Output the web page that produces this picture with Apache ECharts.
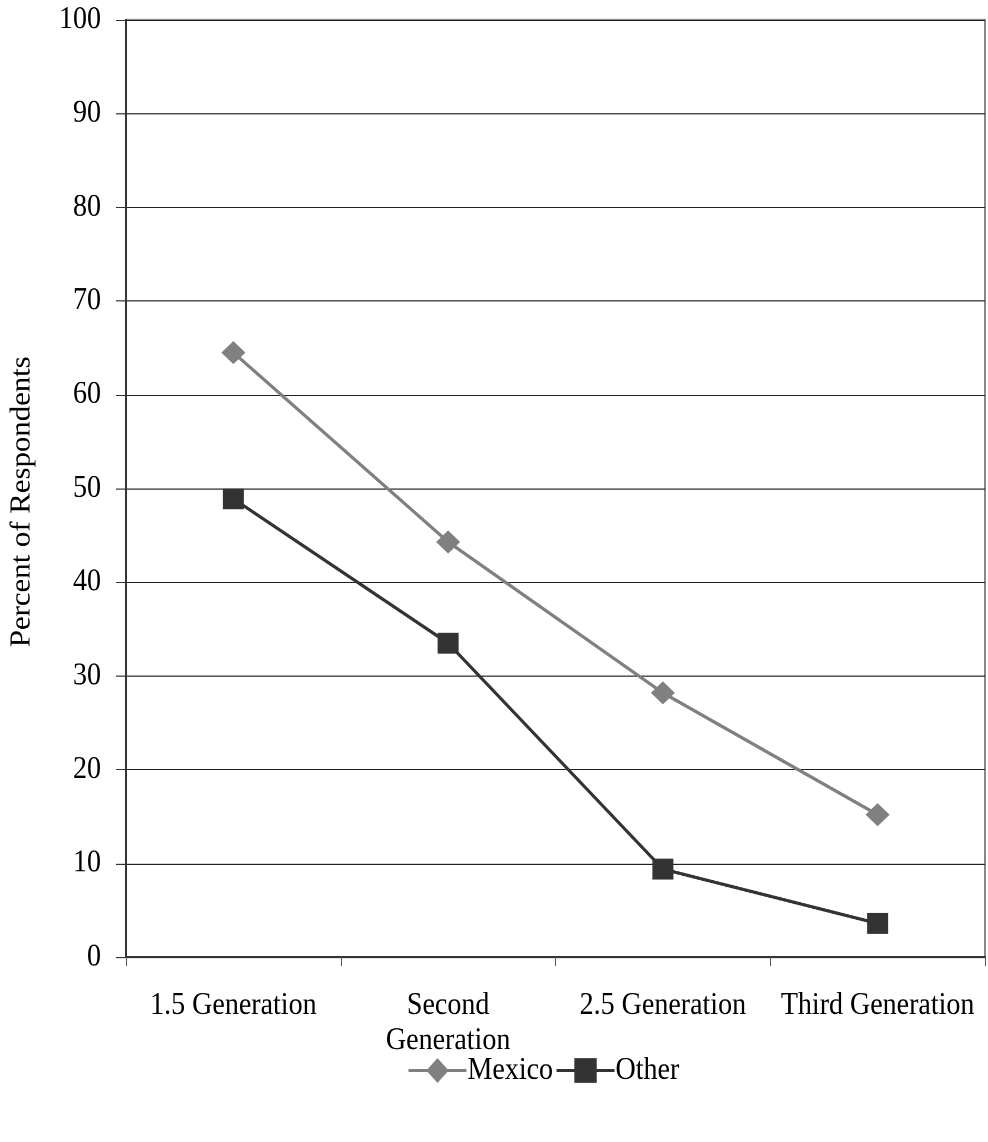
<!DOCTYPE html>
<html>
<head>
<meta charset="utf-8">
<script src="https://cdn.jsdelivr.net/npm/echarts@6/dist/echarts.min.js"></script>
<style>
  html, body { margin: 0; padding: 0; background: #fff; width: 988px; height: 1142px; overflow: hidden; }
  #page { position: relative; width: 988px; height: 1142px; overflow: hidden; }
  /* chart is laid out slightly shorter and stretched vertically to fill the page */
  #chart { position: absolute; left: 0; top: 0; width: 988px; height: 1038px; transform: scaleY(1.1002); transform-origin: 0 0; }
</style>
</head>
<body>
<div id="page"><div id="chart"></div></div>
<script>
// Generations of respondents along the x axis
const categories = ['1.5 Generation', 'Second\nGeneration', '2.5 Generation', 'Third Generation'];
// Percent of respondents per origin group
const mexicoValues = [64.5, 44.3, 28.2, 15.2];
const otherValues = [48.9, 33.5, 9.4, 3.6];
const yTicks = { min: 0, max: 100, interval: 10 };

const FONT = '"Liberation Serif", "Times New Roman", serif';
const FS = 28;
const MEXICO_COLOR = '#808080';
const OTHER_COLOR = '#333333';
const chart = echarts.init(document.getElementById('chart'), null, { renderer: 'canvas', devicePixelRatio: 2 });

chart.setOption({
  backgroundColor: '#ffffff',
  animation: false,
  textStyle: { fontFamily: FONT, color: '#000' },
  grid: { left: 124, right: 3, top: 18, bottom: 168, show: true, borderColor: '#888', borderWidth: 2, containLabel: false },
  legend: {
    top: 954,
    left: 402,
    itemWidth: 58,
    itemHeight: 28,
    itemGap: 2,
    textStyle: { fontFamily: FONT, fontSize: FS, color: '#000', padding: [0, 0, 0, -4] },
    data: [
      { name: 'Mexico', lineStyle: { width: 3, color: MEXICO_COLOR }, itemStyle: { color: MEXICO_COLOR } },
      { name: 'Other', lineStyle: { width: 3, color: OTHER_COLOR }, itemStyle: { color: OTHER_COLOR } }
    ]
  },
  xAxis: {
    type: 'category',
    data: categories,
    boundaryGap: true,
    axisLine: { lineStyle: { color: '#333', width: 2 } },
    axisTick: { show: true, length: 8, lineStyle: { color: '#555', width: 1 } },
    axisLabel: { fontFamily: FONT, fontSize: FS, color: '#000', margin: 28, lineHeight: 32, interval: 0 },
    splitLine: { show: false }
  },
  yAxis: {
    type: 'value',
    min: yTicks.min,
    max: yTicks.max,
    interval: yTicks.interval,
    name: 'Percent of Respondents',
    nameLocation: 'middle',
    nameGap: 90,
    nameTextStyle: { fontFamily: FONT, fontSize: FS, color: '#000', padding: [0, 24, 0, 0] },
    axisLine: { show: true, lineStyle: { color: '#333', width: 2 } },
    axisTick: { show: true, length: 10, lineStyle: { color: '#333', width: 1 } },
    axisLabel: { fontFamily: FONT, fontSize: FS, color: '#000', margin: 25 },
    splitLine: { show: true, lineStyle: { color: '#222', width: 1 } }
  },
  series: [
    {
      name: 'Mexico',
      type: 'line',
      data: mexicoValues,
      symbol: 'diamond',
      symbolSize: [24, 21],
      lineStyle: { color: MEXICO_COLOR, width: 3 },
      itemStyle: { color: MEXICO_COLOR },
      z: 3
    },
    {
      name: 'Other',
      type: 'line',
      data: otherValues,
      symbol: 'rect',
      symbolSize: [21, 19],
      lineStyle: { color: OTHER_COLOR, width: 3 },
      itemStyle: { color: OTHER_COLOR },
      z: 4
    }
  ]
});
</script>
</body>
</html>
